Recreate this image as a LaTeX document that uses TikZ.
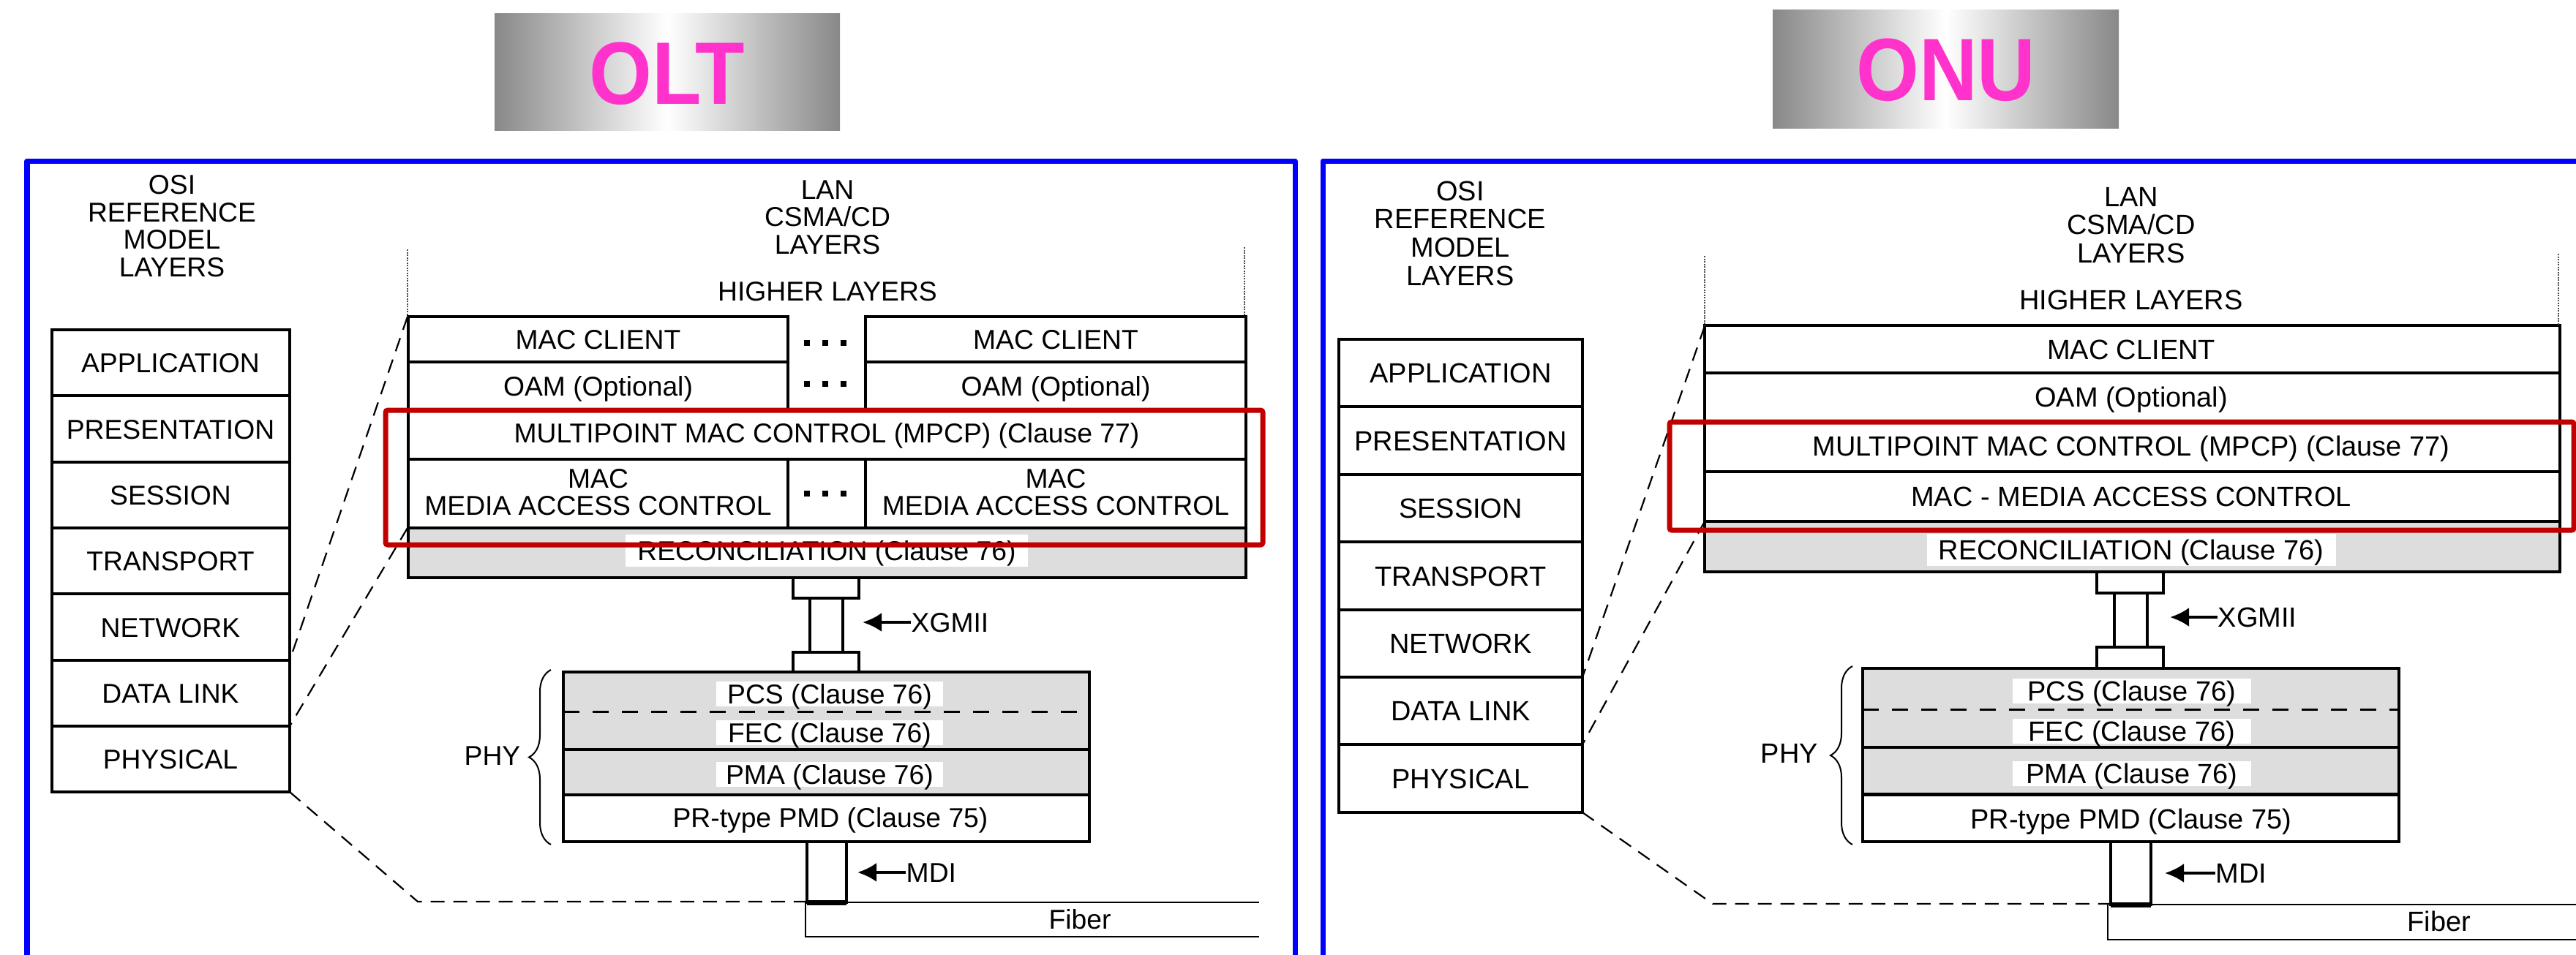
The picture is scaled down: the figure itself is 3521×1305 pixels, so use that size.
\documentclass[tikz,border=0pt]{standalone}
\usepackage{fontspec}
\setmainfont{Liberation Sans}
\usetikzlibrary{arrows.meta,decorations.pathreplacing}
\definecolor{frameblue}{RGB}{0,0,255}
\definecolor{hired}{RGB}{192,0,0}
\definecolor{titlepink}{RGB}{255,51,204}
\definecolor{edgegray}{RGB}{136,136,136}
\definecolor{layergray}{RGB}{221,221,221}
\newcommand\normsize{\fontsize{10.6pt}{10.7pt}\selectfont}
\newcommand\normsizeR{\fontsize{10.8pt}{11pt}\selectfont}
\newcommand\bigtitle{\fontsize{34.5pt}{36pt}\selectfont\bfseries}
\begin{document}
\begin{tikzpicture}[x=0.01cm,y=-0.01cm,
  frame/.style={draw=frameblue,line width=0.07cm,line join=round},
  redbox/.style={draw=hired,line width=0.07cm,rounded corners=0.03cm},
  box/.style={draw=black,line width=0.045cm},
  thinline/.style={draw=black,line width=0.02cm},
  dashconn/.style={draw=black,line width=0.022cm,dash pattern=on 0.19cm off 0.12cm},
  layerdash/.style={draw=black,line width=0.03cm,dash pattern=on 0.22cm off 0.18cm},
  dotline/.style={draw=black!70,line width=0.025cm,dash pattern=on 0.02cm off 0.015cm},
  lbl/.style={inner sep=0pt,font=\normsize,text height=0.27cm,text depth=0cm},
  mlbl/.style={inner sep=0pt,font=\normsize,align=center},
  reconlbl/.style={fill=white,inner xsep=0.16cm,inner ysep=0pt,font=\normsize,text height=0.35cm,text depth=0.09cm},
  phylbl/.style={fill=white,inner sep=0pt,font=\normsize,text height=0.30cm,text depth=0.04cm},
  rightfont/.style={font=\normsizeR},
  title/.style={inner sep=0pt,font=\bigtitle,text=titlepink},
  ptr/.style={draw=black,line width=0.04cm,-{Latex[length=0.26cm,width=0.26cm]}},
  phybrace/.style={draw=black,line width=0.02cm,decorate,decoration={brace,amplitude=0.3cm}},
  sqdot/.style={fill=black}
]
\useasboundingbox (0,0) rectangle (3521,1305);

% ---------------- titles ----------------
\shade[left color=edgegray,right color=edgegray,middle color=white] (676,18) rectangle (1148,178);
\node[title] (olt) at (912,101) {\scalebox{0.91}[1]{OLT}};
\shade[left color=edgegray,right color=edgegray,middle color=white] (2423,13) rectangle (2896,175);
\node[title] (onu) at (2660,96) {\scalebox{0.91}[1]{ONU}};

% ---------------- frames ----------------
\draw[frame] (37,1312) -- (37,220) -- (1770,220) -- (1770,1312);
\draw[frame] (1808,1312) -- (1808,220) -- (3530,220);

% ================= LEFT PANEL (OLT) =================
\node[mlbl] (osihdL) at (235,309) {OSI\\REFERENCE\\MODEL\\LAYERS};
\node[mlbl] (lanhdL) at (1131,297) {LAN\\CSMA/CD\\LAYERS};
\node[lbl] (higherL) at (1131,398) {HIGHER LAYERS};

% OSI column
\draw[box] (71,451) rectangle (396,1083);
\foreach \yy in {541,632,722,812,903,993} \draw[box] (71,\yy) -- (396,\yy);
\node[lbl] (appL) at (233,496) {APPLICATION};
\node[lbl] (preL) at (233,586.5) {PRESENTATION};
\node[lbl] (sesL) at (233,677) {SESSION};
\node[lbl] (traL) at (233,767) {TRANSPORT};
\node[lbl] (netL) at (233,857.5) {NETWORK};
\node[lbl] (dlL) at (233,948) {DATA LINK};
\node[lbl] (phL) at (233,1038) {PHYSICAL};
\coordinate (dlTopL) at (396,903);
\coordinate (dlBotL) at (396,993);
\coordinate (phBotL) at (396,1083);

% LAN stack
\fill[layergray] (558,722) rectangle (1703,790);
\draw[box] (558,433) rectangle (1077,561);
\draw[box] (558,495) -- (1077,495);
\draw[box] (1183,433) rectangle (1703,561);
\draw[box] (1183,495) -- (1703,495);
\draw[box] (558,561) rectangle (1703,790);
\draw[box] (558,628) -- (1703,628);
\draw[box] (558,722) -- (1703,722);
\draw[box] (1077,628) -- (1077,722);
\draw[box] (1183,628) -- (1183,722);
\draw[dotline] (557,341) -- (557,433);
\draw[dotline] (1701,338) -- (1701,433);
\coordinate (stackTopL) at (557,433);
\coordinate (reconTopL) at (557,722);

\node[lbl] (mc1L) at (817.5,464) {MAC CLIENT};
\node[lbl] (mc2L) at (1443,464) {MAC CLIENT};
\node[lbl] (oam1L) at (817.5,528) {OAM (Optional)};
\node[lbl] (oam2L) at (1443,528) {OAM (Optional)};
\node[lbl] (mpcpL) at (1130,592) {MULTIPOINT MAC CONTROL (MPCP) (Clause 77)};
\node[mlbl] (mac1L) at (817.5,673) {MAC\\MEDIA ACCESS CONTROL};
\node[mlbl] (mac2L) at (1443,673) {MAC\\MEDIA ACCESS CONTROL};
\node[reconlbl] (reconL) at (1130,753) {RECONCILIATION (Clause 76)};
\foreach \yy in {469,525,675}
  \foreach \xx in {1103,1128,1153}
    \fill[sqdot] (\xx-4,\yy-4) rectangle (\xx+4,\yy+4);

% XGMII
\draw[box] (1084,790) rectangle (1174,818);
\draw[box] (1107,818) rectangle (1152,892);
\draw[box] (1084,892) rectangle (1174,919);
\node[lbl,anchor=west] (xgmiiL) at (1245,851) {XGMII};
\coordinate (xgTipL) at (1179,851);
\draw[ptr] (xgmiiL.west) -- (xgTipL);

% PHY stack
\fill[layergray] (770,919) rectangle (1489,1087);
\draw[layerdash] (770,973) -- (1489,973);
\draw[box] (770,919) rectangle (1489,1151);
\draw[box] (770,1025) -- (1489,1025);
\draw[box] (770,1087) -- (1489,1087);
\node[phylbl,minimum width=3.1cm] (pcsL) at (1134,949) {PCS (Clause 76)};
\node[phylbl,minimum width=3.1cm] (fecL) at (1134,1002) {FEC (Clause 76)};
\node[phylbl,minimum width=3.1cm] (pmaL) at (1134,1059) {PMA (Clause 76)};
\node[lbl] (pmdL) at (1135,1118) {PR-type PMD (Clause 75)};
\draw[phybrace] (753,1155) -- (753,916);
\node[lbl] (phyL) at (673,1033) {PHY};

% MDI
\draw[box] (1103,1151) rectangle (1157,1234);
\draw[line width=0.07cm] (1103,1234) -- (1157,1234);
\node[lbl,anchor=west] (mdiL) at (1238,1193) {MDI};
\coordinate (mdiTipL) at (1172,1193);
\draw[ptr] (mdiL.west) -- (mdiTipL);
\coordinate (mdiFootL) at (1103,1233);

% Fiber
\draw[thinline] (1157,1234) -- (1721,1234);
\draw[thinline] (1101,1234) -- (1101,1281) -- (1721,1281);
\node[lbl] (fiberL) at (1476,1257) {Fiber};

% dashed mapping lines
\coordinate (bendL) at (571,1233);
\draw[dashconn] (stackTopL) -- (dlTopL);
\draw[dashconn] (reconTopL) -- (dlBotL);
\draw[dashconn] (phBotL) -- (bendL) -- (mdiFootL);

% red highlight
\draw[redbox] (527,561) rectangle (1726,745);

% ================= RIGHT PANEL (ONU) =================
\begin{scope}[every node/.append style={rightfont}]
\node[mlbl,rightfont] (osihdR) at (1996,319) {OSI\\REFERENCE\\MODEL\\LAYERS};
\node[mlbl,rightfont] (lanhdR) at (2913,308) {LAN\\CSMA/CD\\LAYERS};
\node[lbl,rightfont] (higherR) at (2913,410) {HIGHER LAYERS};

% OSI column
\draw[box] (1830,464) rectangle (2163,1111);
\foreach \yy in {556,649,741,834,926,1018} \draw[box] (1830,\yy) -- (2163,\yy);
\node[lbl,rightfont] (appR) at (1996.5,510) {APPLICATION};
\node[lbl,rightfont] (preR) at (1996.5,602.5) {PRESENTATION};
\node[lbl,rightfont] (sesR) at (1996.5,695) {SESSION};
\node[lbl,rightfont] (traR) at (1996.5,787.5) {TRANSPORT};
\node[lbl,rightfont] (netR) at (1996.5,880) {NETWORK};
\node[lbl,rightfont] (dlR) at (1996.5,972) {DATA LINK};
\node[lbl,rightfont] (phR) at (1996.5,1064.5) {PHYSICAL};
\coordinate (dlTopR) at (2163,926);
\coordinate (dlBotR) at (2163,1018);
\coordinate (phBotR) at (2163,1111);

% LAN stack
\fill[layergray] (2330,713) rectangle (3499,782);
\draw[box] (2330,445) rectangle (3499,782);
\foreach \yy in {510,576,645,713} \draw[box] (2330,\yy) -- (3499,\yy);
\draw[dotline] (2330,350) -- (2330,445);
\draw[dotline] (3497,347) -- (3497,445);
\coordinate (stackTopR) at (2330,446);
\coordinate (reconTopR) at (2330,713);

\node[lbl,rightfont] (mcR) at (2913,477.5) {MAC CLIENT};
\node[lbl,rightfont] (oamR) at (2913,543) {OAM (Optional)};
\node[lbl,rightfont] (mpcpR) at (2913,610) {MULTIPOINT MAC CONTROL (MPCP) (Clause 77)};
\node[lbl,rightfont] (macR) at (2913,679) {MAC - MEDIA ACCESS CONTROL};
\node[reconlbl,rightfont] (reconR) at (2913,752) {RECONCILIATION (Clause 76)};

% XGMII
\draw[box] (2866,782) rectangle (2957,811);
\draw[box] (2890,811) rectangle (2935,885);
\draw[box] (2866,885) rectangle (2957,914);
\node[lbl,rightfont,anchor=west] (xgmiiR) at (3031,844) {XGMII};
\coordinate (xgTipR) at (2966,844);
\draw[ptr] (xgmiiR.west) -- (xgTipR);

% PHY stack
\fill[layergray] (2546,914) rectangle (3279,1086.5);
\draw[layerdash] (2546,970) -- (3279,970);
\draw[box] (2546,914) rectangle (3279,1151);
\draw[box] (2546,1022) -- (3279,1022);
\draw[box] (2546,1086.5) -- (3279,1086.5);
\node[phylbl,rightfont,minimum width=3.25cm] (pcsR) at (2914,945) {PCS (Clause 76)};
\node[phylbl,rightfont,minimum width=3.25cm] (fecR) at (2914,1000) {FEC (Clause 76)};
\node[phylbl,rightfont,minimum width=3.25cm] (pmaR) at (2914,1058) {PMA (Clause 76)};
\node[lbl,rightfont] (pmdR) at (2913,1120) {PR-type PMD (Clause 75)};
\draw[phybrace] (2532,1155) -- (2532,911);
\node[lbl,rightfont] (phyR) at (2446,1030) {PHY};

% MDI
\draw[box] (2885,1151) rectangle (2940,1237);
\draw[line width=0.07cm] (2885,1237) -- (2940,1237);
\node[lbl,rightfont,anchor=west] (mdiR) at (3028,1194) {MDI};
\coordinate (mdiTipR) at (2959,1194);
\draw[ptr] (mdiR.west) -- (mdiTipR);
\coordinate (mdiFootR) at (2885,1236);

% Fiber
\draw[thinline] (2940,1237) -- (3525,1237);
\draw[thinline] (2881,1237) -- (2881,1285) -- (3525,1285);
\node[lbl,rightfont] (fiberR) at (3334,1260) {Fiber};

% dashed mapping lines
\coordinate (bendR) at (2341,1236);
\draw[dashconn] (stackTopR) -- (dlTopR);
\draw[dashconn] (reconTopR) -- (dlBotR);
\draw[dashconn] (phBotR) -- (bendR) -- (mdiFootR);
\end{scope}

% red highlight
\draw[redbox] (2282,577) rectangle (3518,725);
\end{tikzpicture}
\end{document}
